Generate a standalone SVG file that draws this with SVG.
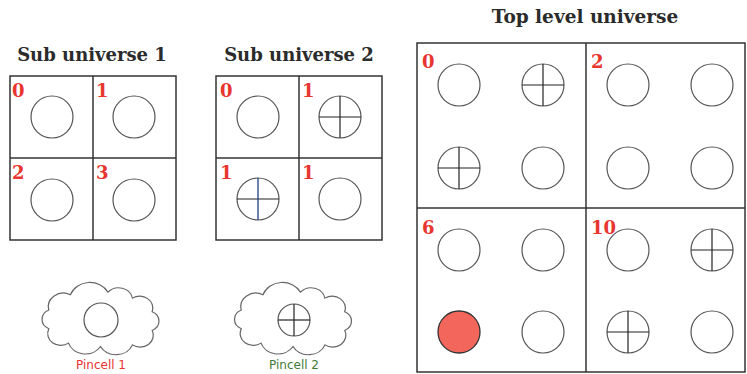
<svg xmlns="http://www.w3.org/2000/svg" width="747" height="374" viewBox="0 0 747 374">
<style>
.title{font-family:"DejaVu Serif","Liberation Serif",serif;font-weight:bold;fill:#2b2b2b}
.num{font-family:"DejaVu Serif","Liberation Serif",serif;font-weight:bold;font-size:18px;fill:#e8352f}
.box{fill:#fff;stroke:#333;stroke-width:1.5}
.div{stroke:#333;stroke-width:1.5}
.pin{fill:#fff;stroke:#555;stroke-width:1.2}
.cross{stroke:#222;stroke-width:1.2}
.cloud{fill:#fff;stroke:#666;stroke-width:1.3}
.plabel{font-family:"DejaVu Sans","Liberation Sans",sans-serif;font-size:12px;text-anchor:middle}
</style>
<defs>
<g id="pin"><circle r="21" class="pin"/></g>
<g id="pinx"><circle r="21" class="pin"/><line x1="-21" y1="0" x2="21" y2="0" class="cross"/><line x1="0" y1="-21" x2="0" y2="21" class="cross"/></g>
<path id="cloud" class="cloud" d="M -55,-10 A 16 16 0 0 1 -32,-28 A 22 22 0 0 1 8,-31 A 15 15 0 0 1 34,-24 A 14 14 0 0 1 55,-8 A 12 12 0 0 1 55,14 A 14 14 0 0 1 34,31 A 19 19 0 0 1 0,33 A 19 19 0 0 1 -34,29 A 14 14 0 0 1 -55,12 A 12 12 0 0 1 -55,-10 Z"/>
</defs>
<rect width="747" height="374" fill="#fff"/>

<g id="sub1">
<text class="title" x="92" y="61" font-size="18" text-anchor="middle">Sub universe 1</text>
<rect class="box" x="10" y="76" width="166" height="164"/>
<line class="div" x1="93" y1="76" x2="93" y2="240"/>
<line class="div" x1="10" y1="158" x2="176" y2="158"/>
<text class="num" x="12" y="97">0</text>
<text class="num" x="96" y="97">1</text>
<text class="num" x="12" y="179">2</text>
<text class="num" x="96" y="179">3</text>
<use href="#pin" x="52" y="117"/>
<use href="#pin" x="134" y="117"/>
<use href="#pin" x="52" y="200"/>
<use href="#pin" x="134" y="200"/>
</g>

<g id="sub2">
<text class="title" x="299" y="61" font-size="18" text-anchor="middle">Sub universe 2</text>
<rect class="box" x="216" y="76" width="166" height="164"/>
<line class="div" x1="299" y1="76" x2="299" y2="240"/>
<line class="div" x1="216" y1="158" x2="382" y2="158"/>
<text class="num" x="220" y="97">0</text>
<text class="num" x="302" y="97">1</text>
<text class="num" x="220" y="179">1</text>
<text class="num" x="302" y="179">1</text>
<use href="#pin" x="258" y="117"/>
<use href="#pinx" x="340" y="117"/>
<g transform="translate(258,199)"><circle r="21" class="pin"/><line x1="-21" y1="0" x2="21" y2="0" class="cross"/><line x1="0" y1="-21" x2="0" y2="21" stroke="#1d3f8a" stroke-width="1.3"/></g>
<use href="#pin" x="340" y="199"/>
</g>

<g id="pincell1">
<use href="#cloud" transform="translate(100.5,318.5) scale(0.94,0.85)"/>
<circle cx="101" cy="320" r="17" class="pin"/>
<text class="plabel" x="101" y="369" fill="#e8352f">Pincell 1</text>
</g>

<g id="pincell2">
<use href="#cloud" transform="translate(293,318.5) scale(0.94,0.85)"/>
<circle cx="294" cy="320" r="16" class="pin"/>
<line x1="278" y1="320" x2="310" y2="320" class="cross"/>
<line x1="294" y1="304" x2="294" y2="336" class="cross"/>
<text class="plabel" x="294" y="369" fill="#3f7a34">Pincell 2</text>
</g>

<g id="top">
<text class="title" x="585" y="23" font-size="18.5" text-anchor="middle">Top level universe</text>
<rect class="box" x="417" y="43" width="328" height="329"/>
<line class="div" x1="586" y1="43" x2="586" y2="372"/>
<line class="div" x1="417" y1="208" x2="745" y2="208"/>
<text class="num" x="422" y="68">0</text>
<text class="num" x="591" y="68">2</text>
<text class="num" x="422" y="234">6</text>
<text class="num" x="591" y="234">10</text>
<use href="#pin" x="459" y="85"/>
<use href="#pinx" x="543" y="85"/>
<use href="#pinx" x="459" y="168"/>
<use href="#pin" x="543" y="168"/>
<use href="#pin" x="628" y="85"/>
<use href="#pin" x="712" y="85"/>
<use href="#pin" x="628" y="168"/>
<use href="#pin" x="712" y="168"/>
<use href="#pin" x="459" y="250"/>
<use href="#pin" x="543" y="250"/>
<circle cx="459" cy="332" r="21" fill="#f2665c" stroke="#333" stroke-width="1.3"/>
<use href="#pin" x="543" y="332"/>
<use href="#pin" x="628" y="250"/>
<use href="#pinx" x="712" y="250"/>
<use href="#pinx" x="628" y="332"/>
<use href="#pin" x="712" y="332"/>
</g>
</svg>
